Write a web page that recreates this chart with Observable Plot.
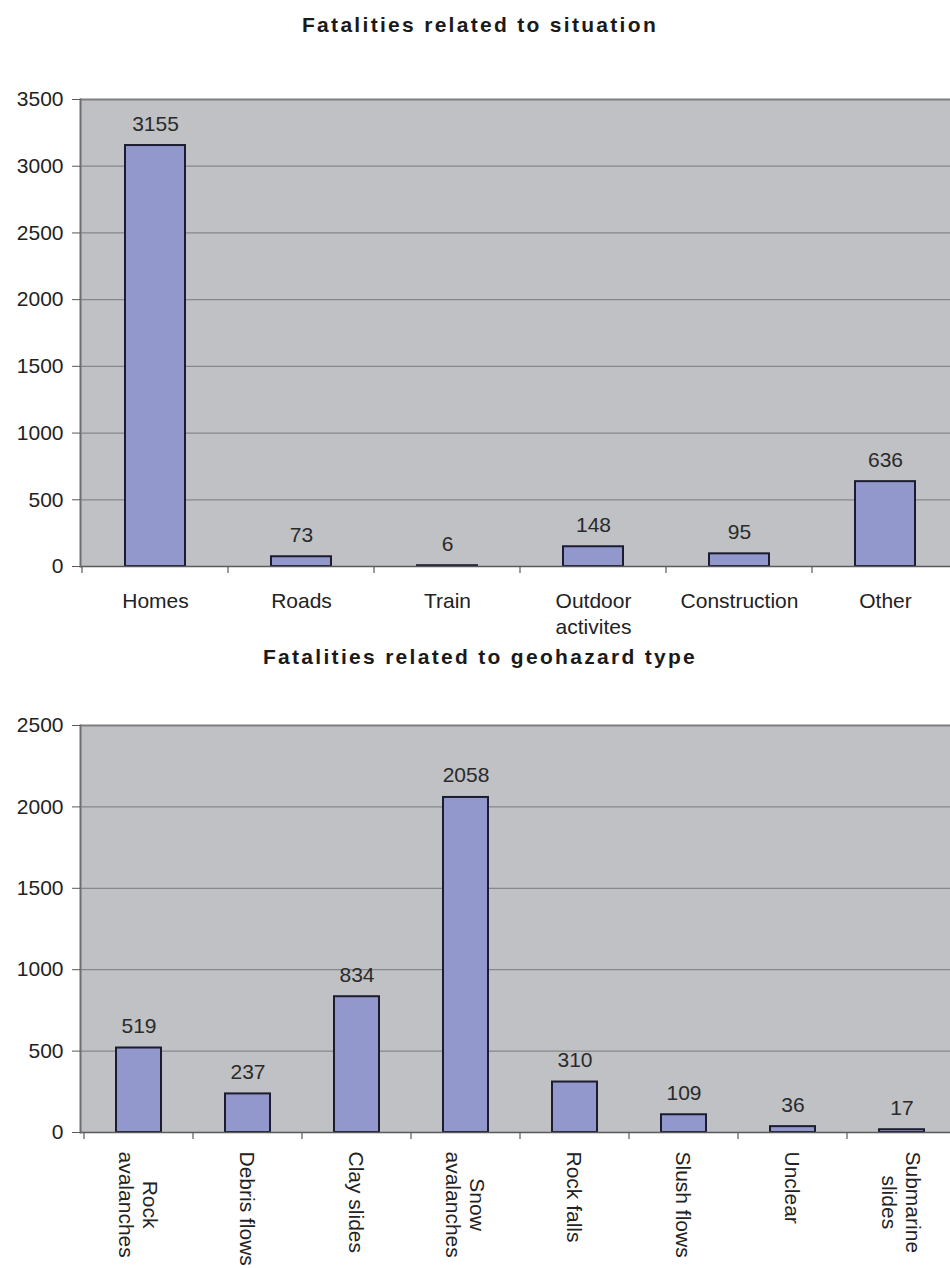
<!DOCTYPE html>
<html><head><meta charset="utf-8">
<script src="https://cdn.jsdelivr.net/npm/d3@7"></script>
<script src="https://cdn.jsdelivr.net/npm/@observablehq/plot@0.6"></script>
<style>
html,body{margin:0;padding:0;background:#fff;overflow:hidden;}
#page{position:relative;width:950px;height:1268px;overflow:hidden;}
.title{position:absolute;left:0;width:960px;text-align:center;font-family:"Liberation Sans",Arial,sans-serif;font-weight:bold;font-size:21px;line-height:21px;letter-spacing:2.3px;color:#1a1a1a;white-space:nowrap;}
.chart{position:absolute;left:0;}
</style></head><body>
<div id="page">
<div class="title" style="top:14px">Fatalities related to situation</div>
<div class="chart" id="c1" style="top:60px"></div>
<div class="title" style="top:646px">Fatalities related to geohazard type</div>
<div class="chart" id="c2" style="top:680px"></div>
</div>
<script>
// ---- data ----
const situations = ["Homes", "Roads", "Train", "Outdoor activites", "Construction", "Other"];
const situationLabels = ["Homes", "Roads", "Train", "Outdoor\nactivites", "Construction", "Other"];
const situationFatalities = [3155, 73, 6, 148, 95, 636];
const situationTicks = [0, 500, 1000, 1500, 2000, 2500, 3000, 3500];

const geohazards = ["Rock avalanches", "Debris flows", "Clay slides", "Snow avalanches", "Rock falls", "Slush flows", "Unclear", "Submarine slides"];
const geohazardLabels = ["Rock\navalanches", "Debris flows", "Clay slides", "Snow\navalanches", "Rock falls", "Slush flows", "Unclear", "Submarine\nslides"];
const geohazardFatalities = [519, 237, 834, 2058, 310, 109, 36, 17];
const geohazardTicks = [0, 500, 1000, 1500, 2000, 2500];

// ---- style ----
const BG = "#bfc1c4", BAR = "#9298cc", BAR_STROKE = "#1c1c30", GRID = "#85878b", AXIS = "#5a5a5a", TEXT = "#222";
const FONT = "'Liberation Sans', Arial, sans-serif";

function boundaryTicks(categories) {
  return (index, scales) => {
    const x = scales.x, y = scales.y;
    const step = x.step(), bw = x.bandwidth();
    const y0 = y(0);
    const g = d3.create("svg:g").attr("stroke", AXIS).attr("stroke-width", 1.2);
    const edges = categories.map(c => x(c) - (step - bw) / 2);
    edges.push(edges[edges.length - 1] + step);
    for (const e of edges) g.append("line").attr("x1", e).attr("x2", e).attr("y1", y0).attr("y2", y0 + 7);
    return g.node();
  };
}

function chart({cats, labels, values, ticks, height, marginTop, marginBottom, rotated}) {
  const rows = cats.map((c, i) => ({category: c, value: values[i], label: labels[i]}));
  const top = ticks[ticks.length - 1];
  const marks = [
    Plot.frame({fill: BG, stroke: null}),
    Plot.gridY(ticks.filter(t => t > 0 && t < top), {stroke: GRID, strokeOpacity: 1, strokeWidth: 1.3}),
    Plot.ruleY([top], {stroke: "#7e7e7e", strokeWidth: 2.2}),
    Plot.barY(rows, {x: "category", y: "value", fill: BAR, stroke: BAR_STROKE, strokeWidth: 2}),
    Plot.ruleY([0], {stroke: AXIS, strokeWidth: 1.6}),
    Plot.ruleX([0], {x: () => 0, frameAnchor: "left"}),
    Plot.axisY({ticks, tickSize: 8, tickPadding: 9, fontSize: 21, stroke: AXIS, fill: TEXT, label: null, tickFormat: d => String(d)}),
    boundaryTicks(cats),
    Plot.text(rows, {x: "category", y: "value", text: d => String(d.value), lineAnchor: "bottom", dy: -15, fontSize: 21, fill: "#2a2a2a"})
  ];
  // remove placeholder left rule (drawn below via frame anchor)
  marks.splice(5, 1, Plot.frame({anchor: "left", stroke: "#6e6e6e", strokeWidth: 2}));
  if (rotated) {
    marks.push(Plot.text(rows, {x: "category", text: "label", frameAnchor: "bottom", rotate: 90, textAnchor: "middle", lineAnchor: "middle", lineHeight: 1.15, dy: 19, fontSize: 21, fill: TEXT}));
  } else {
    marks.push(Plot.axisX({tickSize: 0, tickPadding: 24, fontSize: 21, lineHeight: 1.2, fill: TEXT, label: null, tickFormat: d => labels[cats.indexOf(d)]}));
  }
  return Plot.plot({
    width: 950,
    height,
    marginLeft: 80,
    marginRight: -9,
    marginTop,
    marginBottom,
    style: {fontFamily: FONT, fontSize: "21px", color: TEXT, overflow: "hidden", background: "transparent"},
    x: {domain: cats, paddingInner: 0.59, paddingOuter: 0.295, axis: null, label: null},
    y: {domain: [0, top], axis: null, label: null},
    marks
  });
}

const p1 = chart({cats: situations, labels: situationLabels, values: situationFatalities, ticks: situationTicks, height: 580, marginTop: 39, marginBottom: 74, rotated: false});
document.getElementById("c1").appendChild(p1);

const p2 = chart({cats: geohazards, labels: geohazardLabels, values: geohazardFatalities, ticks: geohazardTicks, height: 588, marginTop: 45, marginBottom: 136, rotated: true});
document.getElementById("c2").appendChild(p2);

// Excel-style: rotated label blocks start just below the axis, lines centred within the block
p2.querySelectorAll("text").forEach(el => {
  const t = el.getAttribute("transform") || "";
  if (t.includes("rotate(90")) {
    const bb = el.getBBox();
    el.setAttribute("transform", t + ` translate(${bb.width / 2},0)`);
  }
});
</script>
</body></html>
